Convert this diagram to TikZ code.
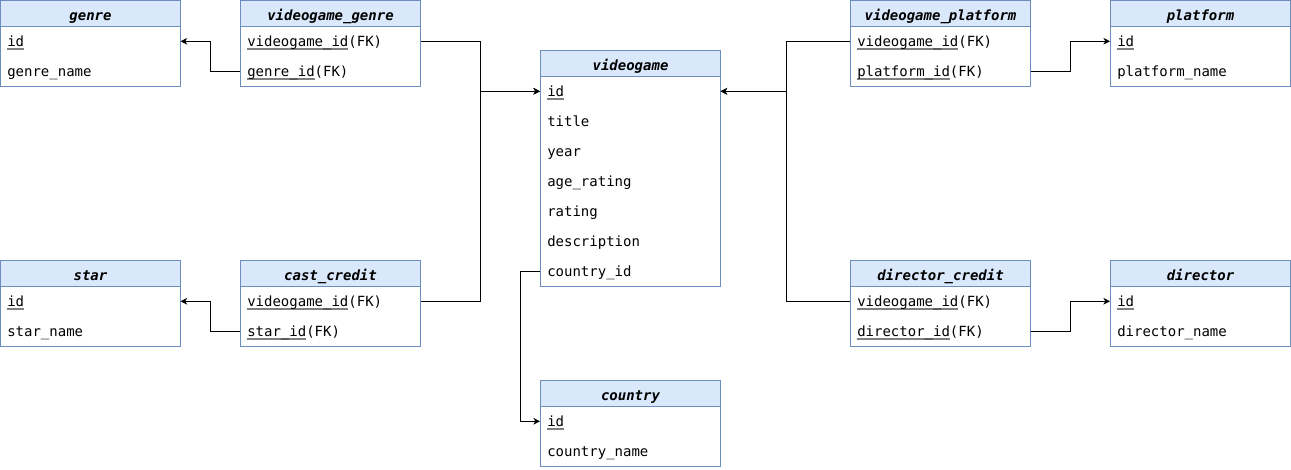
\documentclass[tikz,border=0pt]{standalone}
\usepackage{fontspec}
\setmonofont{DejaVu Sans Mono}
\usetikzlibrary{arrows.meta}
\definecolor{hdr}{HTML}{DAE8FC}
\definecolor{bord}{HTML}{6C8EBF}
\definecolor{ulc}{HTML}{808080}
\newcommand\ulg[1]{\setbox0\hbox{#1}\leavevmode\rlap{\color{ulc}\rule[-2.2pt]{\wd0}{1.1pt}}\box0}
\tikzset{
  hdrbox/.style={draw=bord, fill=hdr, line width=0.75pt, minimum width=135pt, minimum height=19.5pt,
    anchor=north west, inner sep=0pt, text height=11.2pt, text depth=1pt,
    font=\ttfamily\bfseries\itshape\fontsize{10.5pt}{12pt}\selectfont},
  bodybox/.style={draw=bord, fill=white, line width=0.75pt, minimum width=135pt, anchor=north west, inner sep=0pt},
  rowtxt/.style={minimum height=22.5pt, anchor=north west, inner xsep=5.25pt, inner ysep=0pt,
    text height=9.6pt, text depth=1.4pt,
    text width=124.5pt, align=left, font=\ttfamily\fontsize{10.5pt}{12pt}\selectfont},
  link/.style={draw=black, line width=0.75pt, -{Stealth[length=5pt,width=5pt,inset=1.5pt]}}
}
% #1 id, #2 x, #3 y, #4 title, #5 number of rows, #6 rows key/text
\newcommand\ertable[6]{%
  \node[bodybox, minimum height=#5*22.5pt] (#1-body) at (#2,#3+26) {};
  \node[hdrbox] (#1) at (#2,#3) {#4};
  \foreach \rowkey/\rowtext [count=\ri from 0] in {#6} {
    \node[rowtxt] (#1-\rowkey) at (#2,#3+26+30*\ri) {\rowtext};
  }%
}
\begin{document}
\begin{tikzpicture}[x=0.75pt,y=-0.75pt]
\useasboundingbox (0,0) rectangle (1291,470);
\ertable{genre}{0}{0}{genre}{2}{id/\ulg{id},name/genre\_name}
\ertable{vgg}{240}{0}{videogame\_genre}{2}{vid/\ulg{videogame\_id}(FK),gid/\ulg{genre\_id}(FK)}
\ertable{vg}{540}{50}{videogame}{7}{id/\ulg{id},title/title,year/year,age/age\_rating,rating/rating,desc/description,cid/country\_id}
\ertable{vgp}{850}{0}{videogame\_platform}{2}{vid/\ulg{videogame\_id}(FK),pid/\ulg{platform\_id}(FK)}
\ertable{plat}{1110}{0}{platform}{2}{id/\ulg{id},name/platform\_name}
\ertable{star}{0}{260}{star}{2}{id/\ulg{id},name/star\_name}
\ertable{cc}{240}{260}{cast\_credit}{2}{vid/\ulg{videogame\_id}(FK),sid/\ulg{star\_id}(FK)}
\ertable{dc}{850}{260}{director\_credit}{2}{vid/\ulg{videogame\_id}(FK),did/\ulg{director\_id}(FK)}
\ertable{dir}{1110}{260}{director}{2}{id/\ulg{id},name/director\_name}
\ertable{country}{540}{380}{country}{2}{id/\ulg{id},name/country\_name}

\draw[link] (vgg-gid.west) -- ++(-30,0) |- (genre-id.east);
\draw[link] (vgg-vid.east) -- ++(60,0) |- (vg-id.west);
\draw[link] (cc-vid.east) -- ++(60,0) |- (vg-id.west);
\draw[link] (cc-sid.west) -- ++(-30,0) |- (star-id.east);
\draw[link] (vgp-vid.west) -- ++(-64,0) |- (vg-id.east);
\draw[link] (dc-vid.west) -- ++(-64,0) |- (vg-id.east);
\draw[link] (vgp-pid.east) -- ++(40,0) |- (plat-id.west);
\draw[link] (dc-did.east) -- ++(40,0) |- (dir-id.west);
\draw[link] (vg-cid.west) -- ++(-20,0) |- (country-id.west);
\end{tikzpicture}
\end{document}
